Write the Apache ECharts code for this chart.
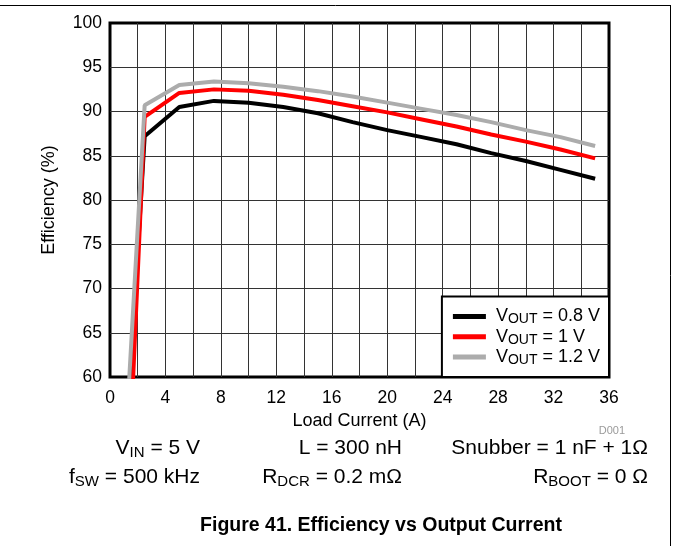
<!DOCTYPE html>
<html>
<head>
<meta charset="utf-8">
<script src="https://cdn.jsdelivr.net/npm/echarts@6/dist/echarts.min.js"></script>
<style>
html,body{margin:0;padding:0;background:#fff;}
#chart{width:673px;height:546px;}
</style>
</head>
<body>
<div id="chart"></div>
<script>
// ---- data ----
var loadCurrent = [1.25, 2.5, 5, 7.5, 10, 12.5, 15, 17.5, 20, 22.5, 25, 27.5, 30, 32.5, 35];
var effVout08 = [54, 87.2, 90.5, 91.2, 91.0, 90.5, 89.8, 88.8, 87.9, 87.1, 86.3, 85.3, 84.4, 83.4, 82.4];
var effVout10 = [45, 89.4, 92.1, 92.5, 92.35, 91.9, 91.3, 90.6, 89.9, 89.1, 88.3, 87.4, 86.6, 85.7, 84.7];
var effVout12 = [56, 90.7, 93.0, 93.4, 93.2, 92.8, 92.3, 91.7, 91.0, 90.3, 89.6, 88.8, 87.9, 87.1, 86.1];
var seriesNames = ['VOUT = 0.8 V', 'VOUT = 1 V', 'VOUT = 1.2 V'];
var seriesLegendText = ['{m| V}{s|OUT}{m| = 0.8 V}', '{m| V}{s|OUT}{m| = 1 V}', '{m| V}{s|OUT}{m| = 1.2 V}'];
var seriesColors = ['#000000', '#ff0000', '#acacac'];
var xTicks = {min: 0, max: 36, step: 2, labelStep: 4};
var yTicks = {min: 60, max: 100, step: 5};

function pairs(xs, ys) { return xs.map(function (x, i) { return [x, ys[i]]; }); }

var FONT = 'Liberation Sans, Arial, Helvetica, sans-serif';
var chart = echarts.init(document.getElementById('chart'), null, {renderer: 'canvas'});

function paramRich() {
  return {
    m: {fontFamily: FONT, fontSize: 21, fontWeight: 'normal', lineHeight: 24, color: '#000'},
    s: {fontFamily: FONT, fontSize: 15, fontWeight: 'normal', lineHeight: 10, verticalAlign: 'bottom', color: '#000'}
  };
}
function paramTitle(text, right, top) {
  return {text: text, right: right, top: top, padding: 0,
          textStyle: {fontWeight: 'normal', fontFamily: FONT, rich: paramRich()}};
}

var option = {
  animation: false,
  backgroundColor: '#fff',
  title: [
    paramTitle('{m|V}{s|IN}{m| = 5 V}', 473, 436),
    paramTitle('{m|L = 300 nH}', 271, 436),
    paramTitle('{m|Snubber = 1 nF + 1Ω}', 25, 436),
    paramTitle('{m|f}{s|SW}{m| = 500 kHz}', 473, 465),
    paramTitle('{m|R}{s|DCR}{m| = 0.2 mΩ}', 271, 465),
    paramTitle('{m|R}{s|BOOT}{m| = 0 Ω}', 25, 465)
  ],
  graphic: [
    {type: 'line', shape: {x1: 0, y1: 5.5, x2: 671, y2: 5.5}, style: {stroke: '#000', lineWidth: 1}},
    {type: 'line', shape: {x1: 670.5, y1: 5, x2: 670.5, y2: 546}, style: {stroke: '#000', lineWidth: 1}},
    {type: 'text', x: 625, y: 431, style: {text: 'D001', fontFamily: FONT, fontSize: 11, fill: '#9a9a9a', align: 'right', verticalAlign: 'middle'}},
    {type: 'text', x: 381, y: 525.5, style: {text: 'Figure 41. Efficiency vs Output Current', fontFamily: FONT, fontSize: 19.5, fontWeight: 'bold', fill: '#000', align: 'center', verticalAlign: 'middle'}}
  ],
  grid: {
    left: 110, right: 64, top: 23, bottom: 169,
    show: true, borderColor: '#000', borderWidth: 3, backgroundColor: 'transparent'
  },
  legend: {
    orient: 'vertical',
    right: 64, bottom: 169,
    padding: [11, 9, 10, 11],
    itemGap: 1.3,
    itemWidth: 33, itemHeight: 5,
    icon: 'rect',
    backgroundColor: '#fff',
    borderColor: '#000', borderWidth: 2, borderRadius: 0,
    data: seriesNames,
    formatter: function (name) { return seriesLegendText[seriesNames.indexOf(name)]; },
    textStyle: {
      rich: {
        m: {fontFamily: FONT, fontSize: 18, lineHeight: 20, color: '#000'},
        s: {fontFamily: FONT, fontSize: 14, lineHeight: 8, verticalAlign: 'bottom', color: '#000'}
      }
    }
  },
  xAxis: {
    type: 'value', min: xTicks.min, max: xTicks.max, interval: xTicks.step,
    name: 'Load Current (A)', nameLocation: 'middle', nameGap: 31,
    nameTextStyle: {fontFamily: FONT, fontSize: 18, color: '#000'},
    axisLine: {show: false}, axisTick: {show: false},
    axisLabel: {
      fontFamily: FONT, fontSize: 17.5, color: '#000', margin: 12,
      formatter: function (v) { return v % xTicks.labelStep === 0 ? String(v) : ''; }
    },
    splitLine: {show: true, showMinLine: false, showMaxLine: false, lineStyle: {color: '#333', width: 1}}
  },
  yAxis: {
    type: 'value', min: yTicks.min, max: yTicks.max, interval: yTicks.step,
    name: 'Efficiency (%)', nameLocation: 'middle', nameGap: 52, nameRotate: 90,
    nameTextStyle: {fontFamily: FONT, fontSize: 18, color: '#000'},
    axisLine: {show: false}, axisTick: {show: false},
    axisLabel: {fontFamily: FONT, fontSize: 17.5, color: '#000', margin: 8},
    splitLine: {show: true, showMinLine: false, showMaxLine: false, lineStyle: {color: '#333', width: 1}}
  },
  series: [
    {name: seriesNames[0], type: 'line', data: pairs(loadCurrent, effVout08), showSymbol: false, symbol: 'none', clip: true,
     lineStyle: {color: seriesColors[0], width: 4}, itemStyle: {color: seriesColors[0]}},
    {name: seriesNames[1], type: 'line', data: pairs(loadCurrent, effVout10), showSymbol: false, symbol: 'none', clip: true,
     lineStyle: {color: seriesColors[1], width: 4}, itemStyle: {color: seriesColors[1]}},
    {name: seriesNames[2], type: 'line', data: pairs(loadCurrent, effVout12), showSymbol: false, symbol: 'none', clip: true,
     lineStyle: {color: seriesColors[2], width: 4}, itemStyle: {color: seriesColors[2]}}
  ]
};
chart.setOption(option);
</script>
</body>
</html>
